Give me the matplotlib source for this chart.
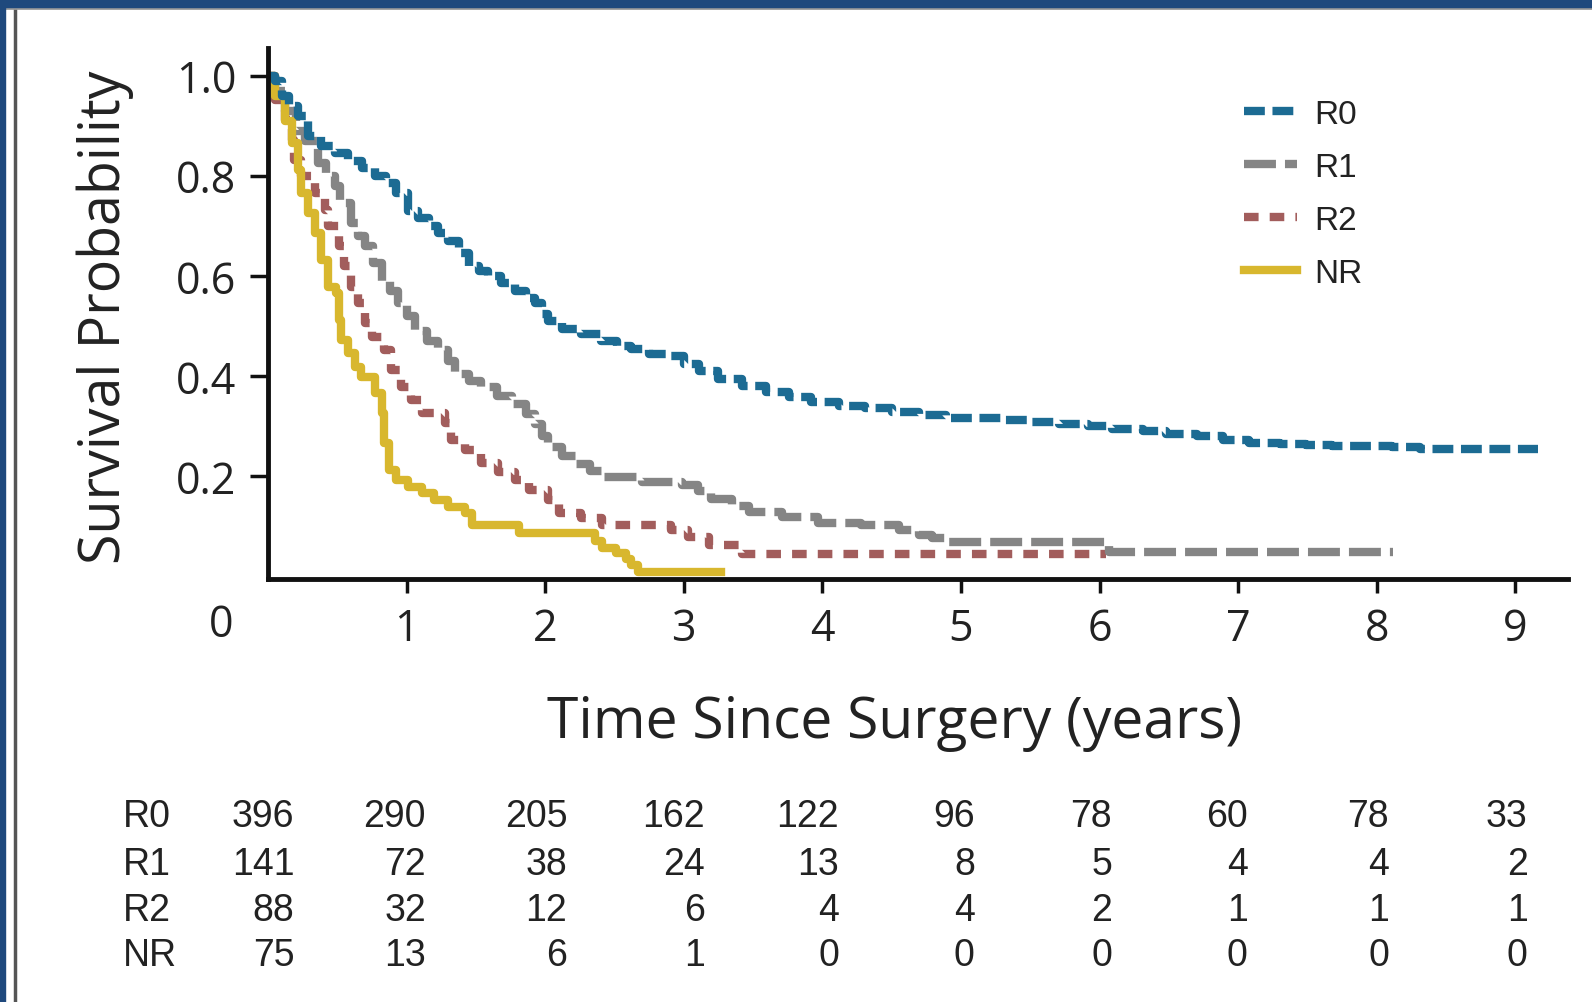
import numpy as np
import matplotlib
matplotlib.use("Agg")
import matplotlib.pyplot as plt
from matplotlib.patches import Rectangle
from matplotlib.lines import Line2D
import matplotlib.transforms as mtransforms

plt.rcParams["lines.scale_dashes"] = False

# survival curves (years, survival probability)
r0_t = [0.0, 0.05, 0.10, 0.15, 0.22, 0.29, 0.38, 0.48, 0.58, 0.68, 0.77, 0.85, 0.92,
        1.01, 1.08, 1.16, 1.23, 1.30, 1.38, 1.45, 1.52, 1.59, 1.68, 1.78, 1.86, 1.93,
        1.98, 2.02, 2.12, 2.26, 2.40, 2.52, 2.62, 2.75, 2.89, 3.00, 3.11, 3.25, 3.42,
        3.59, 3.76, 3.92, 4.12, 4.31, 4.50, 4.70, 4.89, 5.30, 5.49, 5.71, 5.92, 6.09,
        6.31, 6.48, 6.70, 6.89, 7.08, 7.30, 7.49, 7.68, 8.11, 8.31, 9.16]
r0_s = [1.0, 0.99, 0.96, 0.94, 0.92, 0.88, 0.86, 0.845, 0.83, 0.815, 0.80, 0.785, 0.765,
        0.73, 0.715, 0.70, 0.685, 0.67, 0.645, 0.62, 0.61, 0.60, 0.585, 0.57, 0.555, 0.545,
        0.525, 0.51, 0.495, 0.485, 0.47, 0.46, 0.455, 0.445, 0.44, 0.425, 0.41, 0.395, 0.38,
        0.368, 0.358, 0.348, 0.34, 0.336, 0.328, 0.322, 0.316, 0.313, 0.309, 0.304, 0.30, 0.294,
        0.29, 0.284, 0.28, 0.272, 0.266, 0.264, 0.262, 0.26, 0.258, 0.255, 0.255]

r1_t = [0.0, 0.05, 0.12, 0.20, 0.27, 0.36, 0.42, 0.48, 0.52, 0.60, 0.65, 0.70, 0.76, 0.82,
        0.88, 0.94, 1.00, 1.06, 1.15, 1.23, 1.30, 1.35, 1.45, 1.54, 1.65, 1.76, 1.86, 1.93,
        1.98, 2.02, 2.12, 2.22, 2.32, 2.41, 2.70, 2.99, 3.10, 3.20, 3.35, 3.47, 3.71, 3.97,
        4.28, 4.55, 4.70, 4.79, 4.90, 6.07, 8.12]
r1_s = [1.0, 0.97, 0.93, 0.89, 0.87, 0.826, 0.80, 0.78, 0.745, 0.705, 0.68, 0.66, 0.625, 0.59,
        0.57, 0.545, 0.52, 0.49, 0.47, 0.452, 0.43, 0.405, 0.39, 0.378, 0.36, 0.345, 0.325, 0.305,
        0.28, 0.258, 0.24, 0.225, 0.21, 0.198, 0.188, 0.182, 0.17, 0.155, 0.14, 0.128, 0.118, 0.106,
        0.102, 0.092, 0.082, 0.076, 0.068, 0.048, 0.048]

r2_t = [0.0, 0.05, 0.12, 0.17, 0.19, 0.24, 0.34, 0.41, 0.43, 0.51, 0.55, 0.60, 0.65, 0.70,
        0.75, 0.84, 0.89, 0.96, 1.03, 1.11, 1.28, 1.32, 1.42, 1.54, 1.66, 1.78, 1.88, 2.02,
        2.10, 2.26, 2.41, 2.91, 3.03, 3.18, 3.42, 6.05]
r2_s = [1.0, 0.952, 0.912, 0.872, 0.832, 0.80, 0.765, 0.732, 0.70, 0.66, 0.62, 0.578, 0.545, 0.506,
        0.478, 0.452, 0.412, 0.378, 0.352, 0.326, 0.306, 0.272, 0.252, 0.226, 0.208, 0.192, 0.172, 0.152,
        0.126, 0.116, 0.102, 0.092, 0.078, 0.062, 0.044, 0.044]

nr_t = [0.0, 0.05, 0.12, 0.17, 0.22, 0.24, 0.29, 0.34, 0.38, 0.43, 0.49, 0.51, 0.53, 0.58,
        0.63, 0.67, 0.77, 0.82, 0.84, 0.87, 0.92, 1.01, 1.11, 1.20, 1.30, 1.42, 1.47, 1.81,
        2.36, 2.41, 2.51, 2.58, 2.62, 2.67, 3.27]
nr_s = [1.0, 0.96, 0.91, 0.866, 0.812, 0.766, 0.726, 0.686, 0.632, 0.578, 0.566, 0.512, 0.472, 0.446,
        0.418, 0.398, 0.366, 0.326, 0.266, 0.212, 0.192, 0.178, 0.166, 0.152, 0.138, 0.126, 0.102, 0.086,
        0.070, 0.056, 0.046, 0.034, 0.022, 0.008, 0.008]

# numbers at risk
risk_groups = ["R0", "R1", "R2", "NR"]
risk_years = [0, 1, 2, 3, 4, 5, 6, 7, 8, 9]
at_risk = {
    "R0": [396, 290, 205, 162, 122, 96, 78, 60, 78, 33],
    "R1": [141, 72, 38, 24, 13, 8, 5, 4, 4, 2],
    "R2": [88, 32, 12, 6, 4, 4, 2, 1, 1, 1],
    "NR": [75, 13, 6, 1, 0, 0, 0, 0, 0, 0],
}

W, H = 1592, 1003
fig = plt.figure(figsize=(W / 100, H / 100), dpi=100)
fig.patch.set_facecolor("white")

ax = fig.add_axes([268 / W, 1 - 580 / H, 1300 / W, 531 / H])

blue = "#1c6b93"
gray = "#858585"
red = "#a25d5c"
gold = "#d8b72e"
lw = 6

ax.plot(r2_t, r2_s, drawstyle="steps-post", color=red, lw=lw, dashes=(10.5, 8), label="R2")
ax.plot(r1_t, r1_s, drawstyle="steps-post", color=gray, lw=lw, dashes=(23, 6.5), label="R1")
ax.plot(nr_t, nr_s, drawstyle="steps-post", color=gold, lw=lw, label="NR")
ax.plot(r0_t, r0_s, drawstyle="steps-post", color=blue, lw=lw, dashes=(15, 5.5), label="R0")

ax.set_xlim(0, 9.38)
ax.set_ylim(-0.005, 1.055)
for side in ["top", "right"]:
    ax.spines[side].set_visible(False)
for side in ["left", "bottom"]:
    ax.spines[side].set_linewidth(3.5)
    ax.spines[side].set_color("#111111")

tick_font = "Open Sans"
ax.set_yticks([0.2, 0.4, 0.6, 0.8, 1.0])
ax.set_yticklabels(["0.2", "0.4", "0.6", "0.8", "1.0"], family=tick_font, fontsize=31, color="#222222")
ax.set_xticks(range(1, 10))
ax.set_xticklabels([str(i) for i in range(1, 10)], family=tick_font, fontsize=31, color="#222222")
ax.tick_params(axis="y", length=13, width=2.5, pad=10, color="#111111")
ax.tick_params(axis="x", length=10, width=2.5, pad=10, color="#111111")

trans = mtransforms.blended_transform_factory(ax.transData, fig.transFigure)
ax.text(-0.34, 1 - 626 / H, "0", transform=trans, fontsize=31, family=tick_font,
        color="#222222", ha="center", va="center", clip_on=False)

fig.text(895 / W, 1 - 723 / H, "Time Since Surgery (years)", family=tick_font, fontsize=41,
         color="#222222", ha="center", va="center")
fig.text(105 / W, 1 - 317 / H, "Survival Probability", family=tick_font, fontsize=40,
         color="#222222", ha="center", va="center", rotation=90)

handles, labels = ax.get_legend_handles_labels()
order = [labels.index(n) for n in ["R0", "R1", "R2", "NR"]]
leg = ax.legend([handles[i] for i in order], [labels[i] for i in order],
                loc="upper left", bbox_to_anchor=(1244 / W, 1 - 100 / H),
                bbox_transform=fig.transFigure, frameon=False, borderpad=0, borderaxespad=0,
                handlelength=1.6, handletextpad=0.5, labelspacing=0.66,
                prop={"family": "Liberation Sans", "size": 24})
for t in leg.get_texts():
    t.set_color("#222222")

# at-risk table
row_y = [817, 865, 911, 956]
col_x = [0.19, 1.14, 2.16, 3.15, 4.12, 5.10, 6.09, 7.07, 8.09, 9.09]
for g, yy in zip(risk_groups, row_y):
    fig.text(123 / W, 1 - yy / H, g, family="Liberation Sans", fontsize=27,
             color="#222222", ha="left", va="center")
    for xx, n in zip(col_x, at_risk[g]):
        ax.text(xx, 1 - yy / H, str(n), transform=trans, family="Liberation Sans",
                fontsize=27, color="#222222", ha="right", va="center", clip_on=False)

# dark blue frame and grey inner edge
frame = "#1f497d"
fig.add_artist(Rectangle((0, 1 - 8 / H), 1, 8 / H, transform=fig.transFigure, color=frame, zorder=10))
fig.add_artist(Rectangle((0, 0), 5 / W, 1, transform=fig.transFigure, color=frame, zorder=10))
fig.add_artist(Line2D([14.5 / W, 14.5 / W], [0, 1 - 8 / H], transform=fig.transFigure,
                      color="#555555", lw=2.5, zorder=9))
fig.add_artist(Line2D([5 / W, 1], [1 - 9 / H, 1 - 9 / H], transform=fig.transFigure,
                      color="#999999", lw=2, zorder=9))

fig.savefig("out.png", dpi=100)
